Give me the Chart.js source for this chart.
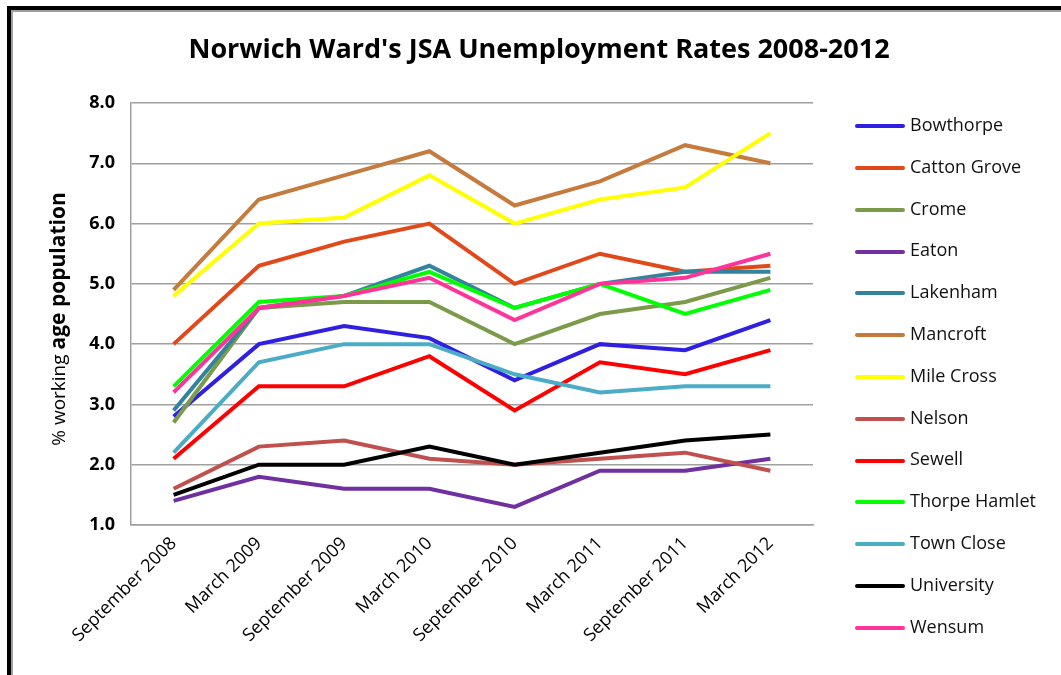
<!DOCTYPE html>
<html>
<head>
<meta charset="utf-8">
<script src="https://cdn.jsdelivr.net/npm/chart.js@4"></script>
<style>
  html, body { margin:0; background:#fff; overflow:hidden; }
  #wrap { position:relative; width:1061px; height:675px; }
  #frame { position:absolute; left:7px; top:6px; width:1100px; height:700px;
           border-left:4px solid #000; border-top:4px solid #000;
           box-shadow: inset 2px 2px 0 #a0a0a0; }
  #chart { position:absolute; left:0; top:0; }
  #legend { position:absolute; left:0; top:0; font-family:"Open Sans", sans-serif; font-size:18px; color:#111; }
  .row { position:absolute; left:855px; height:24px; line-height:24px; white-space:nowrap; }
  .swatch { display:inline-block; width:50px; height:4px; border-radius:2px; vertical-align:middle; margin-right:5px; }
</style>
</head>
<body>
<div id="wrap">
  <div id="frame"></div>
  <canvas id="chart" width="1061" height="675"></canvas>
  <div id="legend"></div>
</div>
<script>
/* ---------- data ---------- */
const periods = ["September 2008","March 2009","September 2009","March 2010",
                 "September 2010","March 2011","September 2011","March 2012"];

const bowthorpe    = [2.8, 4.0, 4.3, 4.1, 3.4, 4.0, 3.9, 4.4];
const cattonGrove  = [4.0, 5.3, 5.7, 6.0, 5.0, 5.5, 5.2, 5.3];
const crome        = [2.7, 4.6, 4.7, 4.7, 4.0, 4.5, 4.7, 5.1];
const eaton        = [1.4, 1.8, 1.6, 1.6, 1.3, 1.9, 1.9, 2.1];
const lakenham     = [2.9, 4.6, 4.8, 5.3, 4.6, 5.0, 5.2, 5.2];
const mancroft     = [4.9, 6.4, 6.8, 7.2, 6.3, 6.7, 7.3, 7.0];
const mileCross    = [4.8, 6.0, 6.1, 6.8, 6.0, 6.4, 6.6, 7.5];
const nelson       = [1.6, 2.3, 2.4, 2.1, 2.0, 2.1, 2.2, 1.9];
const sewell       = [2.1, 3.3, 3.3, 3.8, 2.9, 3.7, 3.5, 3.9];
const thorpeHamlet = [3.3, 4.7, 4.8, 5.2, 4.6, 5.0, 4.5, 4.9];
const townClose    = [2.2, 3.7, 4.0, 4.0, 3.5, 3.2, 3.3, 3.3];
const university   = [1.5, 2.0, 2.0, 2.3, 2.0, 2.2, 2.4, 2.5];
const wensum       = [3.2, 4.6, 4.8, 5.1, 4.4, 5.0, 5.1, 5.5];

const wards   = ["Bowthorpe","Catton Grove","Crome","Eaton","Lakenham","Mancroft","Mile Cross",
                 "Nelson","Sewell","Thorpe Hamlet","Town Close","University","Wensum"];
const series  = [bowthorpe, cattonGrove, crome, eaton, lakenham, mancroft, mileCross,
                 nelson, sewell, thorpeHamlet, townClose, university, wensum];
const colours = ["#2f1fe0","#e2491a","#7b9a4a","#7030a0","#31849b","#c57b3e","#ffff00",
                 "#c0504d","#ff0000","#00ff00","#4bacc6","#000000","#ff3399"];

const yTicks = [1,2,3,4,5,6,7,8];

/* ---------- text drawn on the canvas ---------- */
const FONT = '"Open Sans", sans-serif';
const chartText = {
  id: "chartText",
  afterDraw(chart){
    const c = chart.ctx;
    c.save();
    c.fillStyle = "#000";
    c.font = `bold 27px ${FONT}`;
    c.textAlign = "center"; c.textBaseline = "middle";
    c.fillText("Norwich Ward's JSA Unemployment Rates 2008-2012", 539, 50);

    // y title: small regular part + bold part
    const a = "% working ", b = "age population";
    c.font = `19px ${FONT}`;  const wa = c.measureText(a).width;
    c.font = `bold 21px ${FONT}`; const wb = c.measureText(b).width;
    const cy = (chart.chartArea.top + chart.chartArea.bottom) / 2 + 5;
    c.translate(65, cy + (wa + wb) / 2);
    c.rotate(-Math.PI / 2);
    c.textAlign = "left"; c.textBaseline = "alphabetic";
    c.font = `19px ${FONT}`;      c.fillText(a, 0, 0);
    c.font = `bold 21px ${FONT}`; c.fillText(b, wa, 0);
    c.restore();
  }
};

/* ---------- chart ---------- */
const chart = new Chart(document.getElementById("chart"), {
  type: "line",
  data: {
    labels: periods,
    datasets: series.map((d, i) => ({
      label: wards[i], data: d,
      borderColor: colours[i], backgroundColor: colours[i],
      borderWidth: 4, pointRadius: 0, tension: 0,
      order: series.length - i           // later series on top, like the original
    }))
  },
  options: {
    responsive: false, animation: false,
    layout: { padding: { top: 103, right: 248, left: 0, bottom: 0 } },
    plugins: { legend: { display: false }, tooltip: { enabled: false }, title: { display: false } },
    scales: {
      x: {
        offset: true,
        grid: { display: false, drawTicks: false },
        border: { display: true, color: "#a0a0a0", width: 1.5 },
        ticks: { minRotation: 45, maxRotation: 45, padding: 8, color: "#000",
                 font: { family: FONT, size: 18 } },
        afterFit: s => { s.height = 150; }
      },
      y: {
        min: yTicks[0], max: yTicks[yTicks.length - 1],
        afterBuildTicks: s => { s.ticks = yTicks.map(v => ({ value: v })); },
        grid: { color: "#a0a0a0", lineWidth: 1.5, drawTicks: false },
        border: { display: true, color: "#a0a0a0", width: 1.5 },
        ticks: { padding: 16, color: "#000", callback: v => (+v).toFixed(1),
                 font: { family: FONT, size: 18, weight: "bold" } },
        afterFit: s => { s.width = 131; }
      }
    }
  },
  plugins: [chartText]
});

/* ---------- legend ---------- */
const legend = document.getElementById("legend");
chart.data.datasets.forEach((ds, i) => {
  const row = document.createElement("div");
  row.className = "row";
  row.style.top = (124 + i * 41.8 - 12) + "px";
  row.innerHTML = `<span class="swatch" style="background:${ds.borderColor}"></span>${ds.label}`;
  legend.appendChild(row);
});
</script>
</body>
</html>
